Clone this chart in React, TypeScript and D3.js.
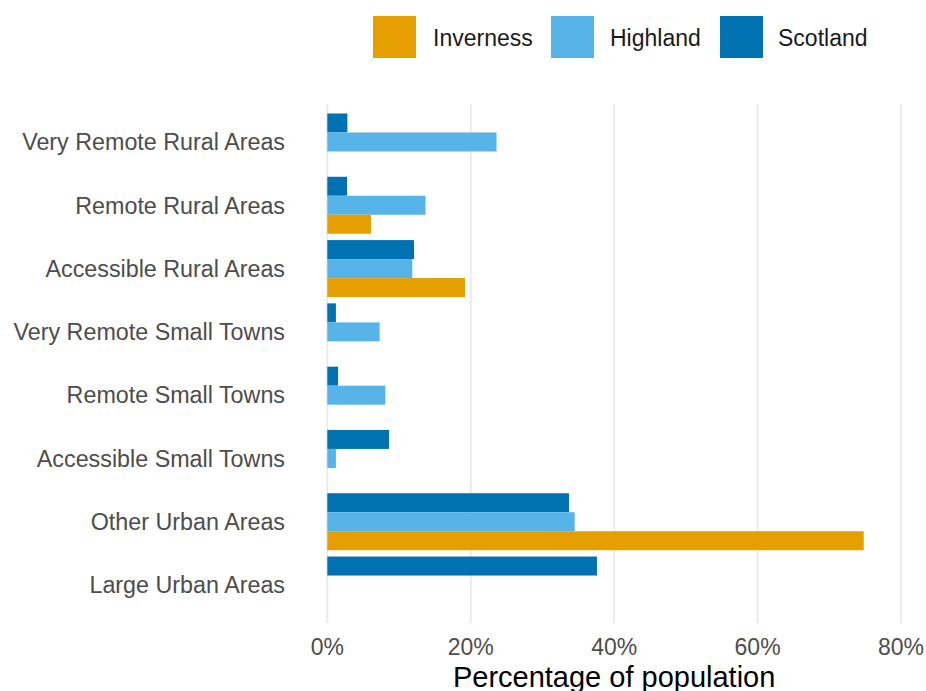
import React from "react";
import * as d3 from "d3";

const categories = [
  "Very Remote Rural Areas",
  "Remote Rural Areas",
  "Accessible Rural Areas",
  "Very Remote Small Towns",
  "Remote Small Towns",
  "Accessible Small Towns",
  "Other Urban Areas",
  "Large Urban Areas",
];
const seriesNames = ["Scotland", "Highland", "Inverness"];
const scotland = [2.8, 2.75, 12.1, 1.2, 1.5, 8.6, 33.7, 37.6];
const highland = [23.6, 13.7, 11.85, 7.3, 8.1, 1.2, 34.5, null];
const inverness = [null, 6.1, 19.2, null, null, null, 74.8, null];
const xTicks = [0, 20, 40, 60, 80];
const legendOrder = ["Inverness", "Highland", "Scotland"];
const colors: Record<string, string> = {
  Inverness: "#E69F00",
  Highland: "#56B4E9",
  Scotland: "#0072B2",
};

export default function App() {
  const W = 926, H = 691;
  const left = 327.3, right = 901;
  const top = 104, bottom = 623;
  const x = d3.scaleLinear().domain([0, 80]).range([left, right]);
  const n = categories.length;
  const step = (bottom - top) / (n - 1 + 1.2);
  const yCenter = (i: number) => top + step * (0.6 + i);
  const groupW = step * 0.9;
  const sub = d3.scaleBand().domain(seriesNames).range([-groupW / 2, groupW / 2]);
  const values: Record<string, (number | null)[]> = {
    Scotland: scotland,
    Highland: highland,
    Inverness: inverness,
  };
  const font = "'Liberation Sans', Arial, sans-serif";
  const legendPos = [
    { box: 373, text: 433 },
    { box: 551, text: 610 },
    { box: 720, text: 778 },
  ];
  return (
    <svg width={W} height={H} style={{ position: "absolute", left: 0, top: 0 }} fontFamily={font}>
      <rect width={W} height={H} fill="#fff" />
      {xTicks.map((t) => (
        <line key={t} x1={x(t)} x2={x(t)} y1={top} y2={bottom} stroke="#ebebeb" strokeWidth={2} />
      ))}
      {categories.map((c, i) =>
        seriesNames.map((s) => {
          const v = values[s][i];
          if (v == null) return null;
          return (
            <rect
              key={c + s}
              x={x(0)}
              y={yCenter(i) + (sub(s) as number)}
              width={x(v) - x(0)}
              height={sub.bandwidth()}
              fill={colors[s]}
            />
          );
        })
      )}
      {categories.map((c, i) => (
        <text key={c} x={285} y={yCenter(i) + 8.3} textAnchor="end" fontSize={23.3} fill="#4d4d4d">
          {c}
        </text>
      ))}
      {xTicks.map((t) => (
        <text key={t} x={x(t)} y={655} textAnchor="middle" fontSize={23} fill="#4d4d4d">
          {t + "%"}
        </text>
      ))}
      <text x={(left + right) / 2} y={687} textAnchor="middle" fontSize={29} fill="#000">
        Percentage of population
      </text>
      {legendOrder.map((name, k) => (
        <g key={name}>
          <rect x={legendPos[k].box} y={16} width={43} height={42} fill={colors[name]} />
          <text x={legendPos[k].text} y={45.5} fontSize={23} fill="#1a1a1a">
            {name}
          </text>
        </g>
      ))}
    </svg>
  );
}
